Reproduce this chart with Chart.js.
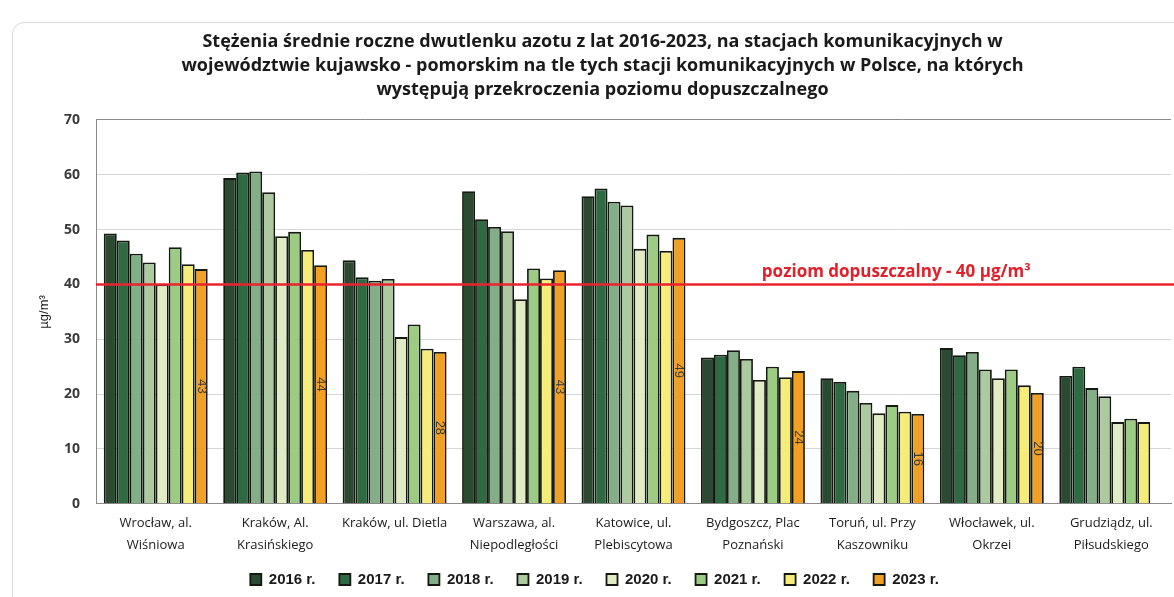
<!DOCTYPE html>
<html lang="pl">
<head>
<meta charset="utf-8">
<title>NO2 – stacje komunikacyjne</title>
<script src="https://cdn.jsdelivr.net/npm/chart.js@4.4.1/dist/chart.umd.min.js"></script>
<style>
    html, body { margin: 0; padding: 0; background: #fff; }
    #wrap { position: relative; width: 1174px; height: 597px; overflow: hidden; }
    #frame {
        position: absolute; left: 12px; top: 22px; width: 1200px; height: 620px;
        border: 1px solid #d8d8d8; border-radius: 12px;
    }
    canvas { position: absolute; left: 0; top: 0; }
</style>
</head>
<body>
<div id="wrap">
    <div id="frame"></div>
    <canvas id="no2Chart" width="1174" height="597"></canvas>
</div>
<script>
// --- DATA ---
const categories = [
    ['Wrocław, al.', 'Wiśniowa'],
    ['Kraków, Al.', 'Krasińskiego'],
    'Kraków, ul. Dietla',
    ['Warszawa, al.', 'Niepodległości'],
    ['Katowice, ul.', 'Plebiscytowa'],
    ['Bydgoszcz, Plac', 'Poznański'],
    ['Toruń, ul. Przy', 'Kaszowniku'],
    ['Włocławek, ul.', 'Okrzei'],
    ['Grudziądz, ul.', 'Piłsudskiego']
];
const years = ['2016 r.', '2017 r.', '2018 r.', '2019 r.', '2020 r.', '2021 r.', '2022 r.', '2023 r.'];

const values2016 = [49.3, 59.4, 44.4, 57.0, 56.1, 26.7, 22.9, 28.4, 23.3];
const values2017 = [48.0, 60.4, 41.3, 51.9, 57.5, 27.2, 22.2, 27.1, 25.0];
const values2018 = [45.6, 60.6, 40.7, 50.5, 55.1, 28.0, 20.6, 27.7, 21.1];
const values2019 = [44.0, 56.8, 41.0, 49.7, 54.4, 26.4, 18.4, 24.5, 19.6];
const values2020 = [40.0, 48.8, 30.4, 37.3, 46.5, 22.6, 16.5, 22.9, 14.9];
const values2021 = [46.8, 49.6, 32.7, 42.9, 49.1, 25.0, 18.0, 24.5, 15.5];
const values2022 = [43.7, 46.3, 28.3, 41.1, 46.1, 23.1, 16.8, 21.6, 14.9];
const values2023 = [42.8, 43.5, 27.7, 42.6, 48.5, 24.2, 16.4, 20.2, null];

const yTicks = [0, 10, 20, 30, 40, 50, 60, 70];
const limitValue = 40;
const limitLabel = 'poziom dopuszczalny - 40 µg/m³';

const seriesValues = [values2016, values2017, values2018, values2019, values2020, values2021, values2022, values2023];
const seriesColors = ['#2c4a31', '#2f6a43', '#84ae88', '#adc9a0', '#e2ecc4', '#9ccb84', '#f6ec7a', '#f2a023'];

// --- PLUGINS ---
// the original frame runs past the right edge, so title + legend sit a bit right of centre
const shiftBlocks = {
    id: 'shiftBlocks',
    afterLayout(chart) {
        [chart.titleBlock, chart.legend].forEach(b => {
            if (!b) return;
            b.left += 17;
            b.right += 17;
        });
    }
};

// red limit line + its caption
const limitLine = {
    id: 'limitLine',
    afterDatasetsDraw(chart) {
        const { ctx, chartArea, scales } = chart;
        const y = scales.y.getPixelForValue(limitValue);
        ctx.save();
        ctx.strokeStyle = '#e8252e';
        ctx.lineWidth = 2.5;
        ctx.beginPath();
        ctx.moveTo(chartArea.left, y);
        ctx.lineTo(chartArea.right + 5, y);
        ctx.stroke();
        ctx.fillStyle = '#e0202a';
        ctx.font = 'bold 17px "Open Sans", sans-serif';
        ctx.textAlign = 'center';
        ctx.textBaseline = 'bottom';
        ctx.fillText(limitLabel, scales.x.getPixelForValue(6.2), y - 4);
        ctx.restore();
    }
};

// rotated value labels on the 2023 bars
const lastYearLabels = {
    id: 'lastYearLabels',
    afterDatasetsDraw(chart) {
        const { ctx, scales } = chart;
        const idx = seriesValues.length - 1;
        const meta = chart.getDatasetMeta(idx);
        ctx.save();
        ctx.fillStyle = '#3a3a3a';
        ctx.font = '13px "Liberation Sans", Arial, sans-serif';
        ctx.textAlign = 'center';
        ctx.textBaseline = 'middle';
        meta.data.forEach((bar, i) => {
            const v = values2023[i];
            if (v == null) return;
            const yMid = (bar.y + scales.y.getPixelForValue(0)) / 2;
            ctx.save();
            ctx.translate(bar.x, yMid);
            ctx.rotate(Math.PI / 2);
            ctx.fillText(String(Math.round(v)), 0, 0);
            ctx.restore();
        });
        ctx.restore();
    }
};

// --- CHART ---
const ctx = document.getElementById('no2Chart').getContext('2d');
new Chart(ctx, {
    type: 'bar',
    data: {
        labels: categories,
        datasets: years.map((year, i) => ({
            label: year,
            data: seriesValues[i],
            backgroundColor: seriesColors[i],
            borderColor: '#141a12',
            borderWidth: 1.8,
            borderSkipped: 'bottom',
            categoryPercentage: 0.87,
            barPercentage: 1.0
        }))
    },
    options: {
        responsive: false,
        animation: false,
        layout: { padding: { left: 0, right: 3, top: 0, bottom: 0 } },
        plugins: {
            title: {
                display: true,
                text: [
                    'Stężenia średnie roczne dwutlenku azotu z lat 2016-2023, na stacjach komunikacyjnych w',
                    'województwie kujawsko - pomorskim na tle tych stacji komunikacyjnych w Polsce, na których',
                    'występują przekroczenia poziomu dopuszczalnego'
                ],
                color: '#1a1a1a',
                font: { family: '"Open Sans", sans-serif', size: 18, weight: 'bold', lineHeight: 1.333 },
                padding: { top: 30, bottom: 18 }
            },
            legend: {
                position: 'bottom',
                labels: {
                    color: '#1a1a1a',
                    font: { family: '"Liberation Sans", Arial, sans-serif', size: 15, weight: 'bold' },
                    boxWidth: 11,
                    boxHeight: 11,
                    padding: 8,
                    // a little extra room after each entry, as in the original legend
                    generateLabels: (chart) => Chart.defaults.plugins.legend.labels.generateLabels(chart)
                        .map(item => ({ ...item, text: item.text + '\u2002  ' }))
                }
            },
            tooltip: { enabled: false }
        },
        scales: {
            x: {
                grid: { display: false, drawTicks: false },
                border: { color: '#8a8a8a', width: 1 },
                ticks: {
                    color: '#1a1a1a',
                    font: { family: '"Open Sans", sans-serif', size: 13, lineHeight: 1.7 },
                    padding: 8,
                    maxRotation: 0,
                    autoSkip: false
                }
            },
            y: {
                min: 0,
                max: 70,
                afterBuildTicks: (scale) => { scale.ticks = yTicks.map(v => ({ value: v })); },
                afterFit: (scale) => { scale.width = 96; },
                grid: {
                    color: (c) => c.tick && c.tick.value === 70 ? '#8a8a8a' : '#d6d6d6',
                    drawTicks: false
                },
                border: { color: '#8a8a8a', width: 1 },
                ticks: {
                    color: '#3b3b3b',
                    font: { family: '"Open Sans", sans-serif', size: 14, weight: 'bold' },
                    padding: 16
                },
                title: {
                    display: true,
                    text: 'µg/m³',
                    color: '#1a1a1a',
                    font: { family: '"Liberation Sans", Arial, sans-serif', size: 13 },
                    padding: { top: 37, bottom: 0 }
                }
            }
        }
    },
    plugins: [shiftBlocks, limitLine, lastYearLabels]
});
</script>
</body>
</html>
